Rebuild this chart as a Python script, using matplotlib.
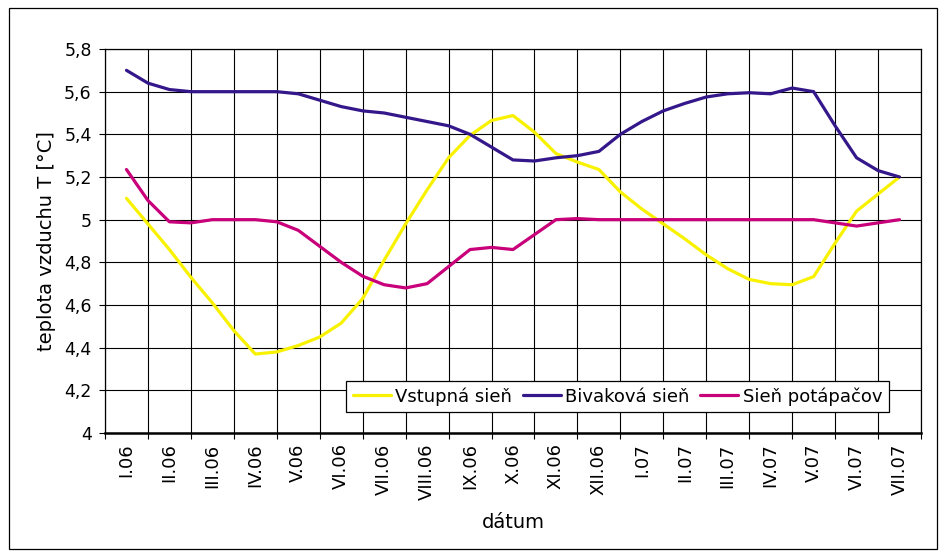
import numpy as np
import matplotlib
matplotlib.use("Agg")
import matplotlib.pyplot as plt
from matplotlib.patches import Rectangle
from matplotlib.ticker import FixedLocator, FuncFormatter

plt.rcParams['font.family'] = ['DejaVu Sans']

# month labels on the category axis
months = ["I.06", "II.06", "III.06", "IV.06", "V.06", "VI.06", "VII.06",
          "VIII.06", "IX.06", "X.06", "XI.06", "XII.06", "I.07", "II.07",
          "III.07", "IV.07", "V.07", "VI.07", "VII.07"]

# readings twice a month (start and middle), temperature in deg C
vstupna = [5.10, 4.98, 4.86, 4.73, 4.61, 4.48, 4.37, 4.38, 4.41, 4.45,
           4.515, 4.63, 4.81, 4.98, 5.14, 5.29, 5.395, 5.465, 5.488, 5.41,
           5.31, 5.27, 5.235, 5.13, 5.05, 4.98, 4.91, 4.835, 4.77, 4.72,
           4.70, 4.695, 4.733, 4.89, 5.04, 5.12, 5.20]
bivakova = [5.70, 5.64, 5.61, 5.60, 5.60, 5.60, 5.60, 5.60, 5.59, 5.56,
            5.53, 5.51, 5.50, 5.48, 5.46, 5.44, 5.40, 5.34, 5.28, 5.275,
            5.29, 5.30, 5.32, 5.40, 5.46, 5.51, 5.545, 5.575, 5.59, 5.595,
            5.59, 5.617, 5.60, 5.44, 5.29, 5.23, 5.20]
potapacov = [5.235, 5.09, 4.99, 4.985, 5.00, 5.00, 5.00, 4.99, 4.95, 4.875,
             4.80, 4.735, 4.695, 4.68, 4.70, 4.78, 4.86, 4.87, 4.86, 4.93,
             5.00, 5.005, 5.00, 5.00, 5.00, 5.00, 5.00, 5.00, 5.00, 5.00,
             5.00, 5.00, 5.00, 4.985, 4.97, 4.985, 5.00]

series = [
    ("Vstupná sieň", vstupna, "#F8F200"),
    ("Bivaková sieň", bivakova, "#34178A"),
    ("Sieň potápačov", potapacov, "#C8007A"),
]

W, H = 947, 554
fig = plt.figure(figsize=(W / 100, H / 100), dpi=100)
ax = fig.add_axes([105 / W, (H - 433) / H, 816 / W, 384 / H])

t = np.arange(len(vstupna)) / 2.0
for name, vals, col in series:
    ax.plot(t, vals, color=col, lw=2.3, label=name,
            solid_joinstyle="round", solid_capstyle="round", zorder=3)

ax.set_xlim(-0.5, len(months) - 0.5)
ax.set_ylim(4, 5.8)

# labels at category centres, ticks and grid on the boundaries
ax.set_xticks(np.arange(len(months)))
ax.set_xticklabels(months, rotation=90, va="top", ha="center", fontsize=13)
ax.xaxis.set_minor_locator(FixedLocator(np.arange(-0.5, len(months), 1.0)))
ax.tick_params(axis="x", which="major", length=0, pad=7.5)
ax.tick_params(axis="x", which="minor", length=4.5, width=0.8, direction="out")
ax.grid(True, axis="x", which="minor", color="black", lw=0.8)

ax.set_yticks(np.arange(4, 5.81, 0.2))
ax.yaxis.set_major_formatter(FuncFormatter(
    lambda v, p: ("%g" % round(v, 1)).replace(".", ",")))
ax.tick_params(axis="y", length=4.5, width=0.8, direction="out", labelsize=12.5, pad=5)
ax.grid(True, axis="y", which="major", color="black", lw=0.8)
ax.set_axisbelow(True)

for s in ax.spines.values():
    s.set_color("black")
    s.set_linewidth(0.9)
ax.spines["bottom"].set_linewidth(1.8)

ax.set_ylabel("teplota vzduchu T [°C]", fontsize=14)
ax.yaxis.set_label_coords(-0.0723, 0.5)
ax.yaxis.label.set_va("center")
ax.set_xlabel("dátum", fontsize=14)
ax.xaxis.set_label_coords(0.5, -0.232)
ax.xaxis.label.set_va("center")

leg = ax.legend(loc="center", bbox_to_anchor=(0.628, 0.095), ncol=3,
                fontsize=13, frameon=True, fancybox=False, framealpha=1,
                edgecolor="black", handlelength=2.1, handletextpad=0.25,
                columnspacing=0.6, borderpad=0.35)
leg.get_frame().set_linewidth(0.9)
leg.set_zorder(5)

# outer chart frame
fig.patches.append(Rectangle((9 / W, (H - 549) / H), 928 / W, 541 / H,
                             transform=fig.transFigure, fill=False,
                             edgecolor="black", lw=0.9))

fig.savefig("out.png", dpi=100)
